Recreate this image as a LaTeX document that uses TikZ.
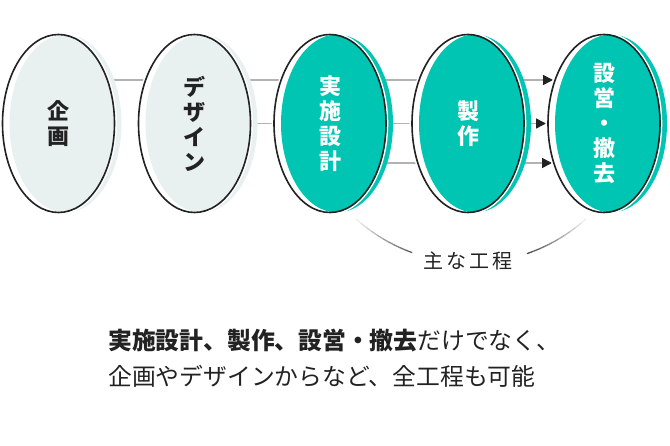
\documentclass[tikz,border=0pt]{standalone}
\usepackage{fontspec}
\setmainfont{Noto Sans CJK JP}
\usetikzlibrary{arrows.meta,shapes.geometric}
\pgfdeclarelayer{bg}
\pgfsetlayers{bg,main}
\definecolor{tealfill}{HTML}{00C5B3}
\definecolor{palefill}{HTML}{E8F1F0}
\definecolor{ink}{HTML}{222222}
\definecolor{conn}{HTML}{B2B2B2}
\newcommand\mystage[5]{%
  \node[basew] at (#2,123.5) {};
  \node[fillsh, fill=#3] at ({#2+7},123.5) {};
  \node[halo] at (#2,123.5) {};
  \node[outl, text=#4] (#1) at (#2,123.5) {#5};
}
\begin{document}
\begin{tikzpicture}[x=1pt,y=-1pt,
  ell/.style={ellipse, inner sep=0pt, outer sep=0pt, minimum width=112pt, minimum height=178pt},
  basew/.style={ell, fill=white},
  fillsh/.style={ell},
  halo/.style={ellipse, inner sep=0pt, outer sep=0pt, minimum width=115pt, minimum height=181pt, draw=white, line width=1.6pt},
  outl/.style={ell, draw=ink, line width=1.6pt, align=center, font=\bfseries\fontsize{22}{25}\selectfont},
  connector/.style={draw=conn, line width=1.5pt, -{Triangle[length=10pt,width=10pt,color=ink]}},
  plain/.style={draw=conn, line width=1.5pt}]
\useasboundingbox (0,0) rectangle (670,446);

\mystage{e1}{58.5}{palefill}{ink}{企\\画}
\mystage{e2}{194.5}{palefill}{ink}{デ\\ザ\\イ\\ン}
\mystage{e3}{330}{tealfill}{white}{実\\施\\設\\計}
\mystage{e4}{468}{tealfill}{white}{製\\作}
\mystage{e5}{604}{tealfill}{white}{設\\営\\・\\撤\\去}

\coordinate (a1) at (553,80);
\coordinate (a2) at (546,123.5);
\coordinate (a3) at (552,163);
\begin{pgfonlayer}{bg}
  \draw[connector] (e1 |- a1) -- (a1);
  \draw[connector] (e2 |- a2) -- (a2);
  \draw[connector] (e3 |- a3) -- (a3);
\end{pgfonlayer}

\node[text=ink, font=\fontsize{20}{24}\selectfont, inner sep=0pt] (lbl) at (468,260.5) {主\hspace{3pt}な\hspace{3pt}工\hspace{3pt}程};
\coordinate (arcc) at (471,91);
\foreach \i in {0,...,9}{
  \pgfmathsetmacro\sa{132-2.2*\i}
  \pgfmathsetmacro\ea{132-2.2*(\i+1)}
  \pgfmathsetmacro\p{8+7*\i}
  \draw[line width=1.3pt, color=ink!\p!white] (arcc) ++(\sa:172) arc[start angle=\sa, end angle=\ea, radius=172];
  \pgfmathsetmacro\sb{48+2.3*\i}
  \pgfmathsetmacro\eb{48+2.3*(\i+1)}
  \pgfmathsetmacro\q{8+8*\i}
  \draw[line width=1.3pt, color=ink!\q!white] (arcc) ++(\sb:172) arc[start angle=\sb, end angle=\eb, radius=172];
}

\node[anchor=west, inner sep=0pt, text=ink, font=\fontsize{23.8}{36}\selectfont] (t1) at (108,341) {\textbf{実施設計、製作、設営・撤去}だけでなく、};
\node[anchor=west, inner sep=0pt, text=ink, font=\fontsize{23.8}{36}\selectfont] (t2) at (108,376) {企画やデザインからなど、全工程も可能};
\end{tikzpicture}
\end{document}
